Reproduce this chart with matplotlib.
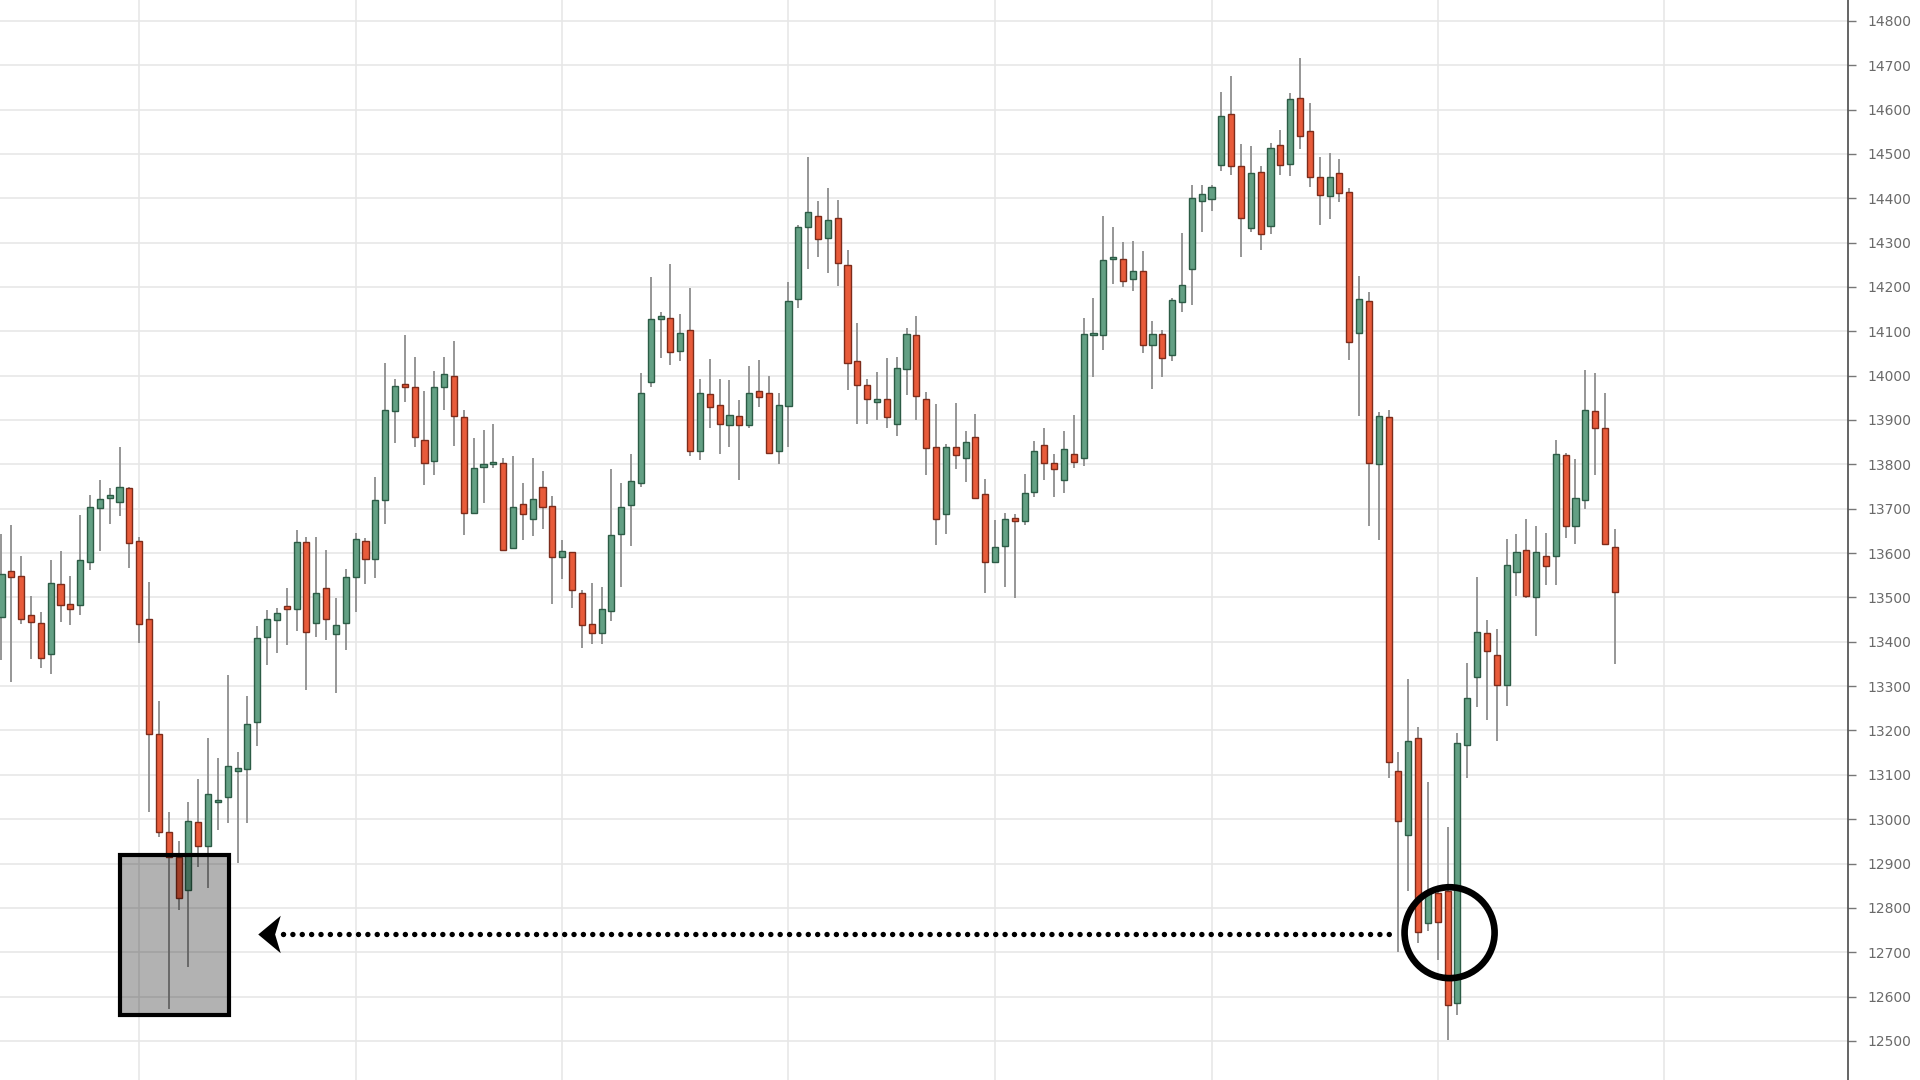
import numpy as np
import matplotlib
matplotlib.use('Agg')
import matplotlib.pyplot as plt
from matplotlib.patches import Rectangle, Ellipse
from matplotlib.path import Path

# OHLC, one bar per entry
opens = [13456, 13559, 13548, 13461, 13443, 13372, 13530, 13486, 13482, 13580,
         13702, 13724, 13715, 13747, 13628, 13452, 13193, 12971, 12915, 12841,
         12993, 12940, 13038, 13049, 13109, 13113, 13219, 13411, 13448, 13481,
         13474, 13626, 13443, 13522, 13417, 13442, 13547, 13628, 13587, 13719,
         13921, 13981, 13975, 13855, 13807, 13974, 13999, 13907, 13691, 13795,
         13801, 13802, 13612, 13710, 13677, 13750, 13707, 13590, 13602, 13511,
         13440, 13419, 13470, 13643, 13709, 13759, 13986, 14128, 14131, 14056,
         14103, 13829, 13959, 13933, 13889, 13908, 13889, 13965, 13962, 13829,
         13932, 14172, 14336, 14361, 14310, 14355, 14250, 14033, 13979, 13941,
         13947, 13892, 14016, 14092, 13948, 13838, 13689, 13838, 13815, 13862,
         13734, 13580, 13616, 13680, 13672, 13738, 13844, 13802, 13765, 13824,
         13815, 14092, 14092, 14262, 14262, 14217, 14237, 14068, 14095, 14046,
         14166, 14241, 14393, 14399, 14474, 14589, 14472, 14333, 14459, 14337,
         14520, 14478, 14626, 14551, 14448, 14406, 14457, 14414, 14097, 14168,
         13800, 13907, 13108, 12964, 13182, 12766, 12834, 12838, 12586, 13168,
         13320, 13420, 13371, 13303, 13557, 13608, 13501, 13593, 13593, 13820,
         13660, 13720, 13920, 13883, 13614]
highs = [13643, 13663, 13594, 13503, 13468, 13585, 13604, 13548, 13685, 13732,
         13764, 13746, 13839, 13750, 13637, 13534, 13267, 13016, 12950, 13038,
         13091, 13183, 13139, 13326, 13151, 13277, 13435, 13472, 13477, 13522,
         13652, 13636, 13636, 13607, 13499, 13564, 13646, 13633, 13771, 14028,
         13993, 14091, 14041, 13966, 14010, 14041, 14079, 13922, 13859, 13877,
         13892, 13814, 13818, 13757, 13814, 13785, 13729, 13629, 13602, 13517,
         13532, 13524, 13789, 13757, 13823, 14007, 14223, 14144, 14251, 14138,
         14198, 13993, 14038, 13993, 13990, 13945, 14022, 14035, 13999, 13962,
         14211, 14340, 14492, 14394, 14423, 14397, 14283, 14118, 13992, 14008,
         14039, 14042, 14108, 14134, 13964, 13935, 13847, 13939, 13876, 13914,
         13768, 13674, 13691, 13687, 13778, 13853, 13883, 13823, 13875, 13911,
         14131, 14174, 14360, 14335, 14301, 14303, 14282, 14123, 14102, 14175,
         14322, 14429, 14429, 14430, 14640, 14675, 14523, 14517, 14472, 14524,
         14553, 14638, 14716, 14615, 14492, 14502, 14489, 14423, 14224, 14189,
         13917, 13923, 13151, 13317, 13208, 13084, 12840, 12982, 13194, 13352,
         13547, 13448, 13428, 13631, 13643, 13677, 13660, 13645, 13855, 13826,
         13811, 14013, 14007, 13961, 13654]
lows = [13359, 13310, 13441, 13362, 13340, 13327, 13444, 13437, 13460, 13561,
        13604, 13665, 13684, 13567, 13398, 13017, 12960, 12571, 12795, 12667,
        12891, 12844, 12976, 12991, 12901, 12991, 13165, 13347, 13375, 13392,
        13425, 13291, 13410, 13404, 13285, 13382, 13467, 13531, 13543, 13666,
        13848, 13940, 13838, 13753, 13775, 13923, 13842, 13640, 13687, 13712,
        13791, 13608, 13612, 13629, 13638, 13654, 13485, 13541, 13475, 13387,
        13395, 13395, 13447, 13524, 13616, 13750, 13974, 14039, 14023, 14033,
        13819, 13810, 13881, 13823, 13838, 13765, 13883, 13930, 13825, 13801,
        13840, 14152, 14241, 14268, 14231, 14203, 13968, 13892, 13892, 13900,
        13881, 13865, 13956, 13899, 13776, 13618, 13644, 13789, 13760, 13723,
        13511, 13580, 13524, 13499, 13663, 13726, 13764, 13726, 13736, 13792,
        13796, 13997, 14057, 14207, 14200, 14190, 14051, 13970, 13996, 14034,
        14143, 14159, 14323, 14371, 14462, 14453, 14268, 14323, 14283, 14320,
        14453, 14450, 14512, 14425, 14339, 14354, 14392, 14036, 13909, 13662,
        13630, 13093, 12700, 12838, 12720, 12747, 12682, 12501, 12559, 13093,
        13252, 13223, 13176, 13256, 13503, 13498, 13413, 13528, 13528, 13633,
        13620, 13700, 13777, 13620, 13349]
closes = [13553, 13546, 13452, 13445, 13363, 13533, 13482, 13473, 13584, 13704,
          13722, 13731, 13750, 13623, 13441, 13193, 12971, 12915, 12823, 12996,
          12940, 13056, 13042, 13119, 13116, 13215, 13408, 13452, 13465, 13473,
          13626, 13421, 13510, 13452, 13437, 13547, 13632, 13587, 13720, 13922,
          13977, 13974, 13862, 13804, 13974, 14003, 13908, 13691, 13792, 13798,
          13803, 13608, 13704, 13689, 13722, 13703, 13590, 13605, 13517, 13438,
          13419, 13474, 13641, 13703, 13763, 13962, 14128, 14135, 14053, 14097,
          13831, 13962, 13929, 13891, 13911, 13889, 13962, 13951, 13826, 13933,
          14169, 14336, 14368, 14308, 14351, 14254, 14029, 13978, 13947, 13947,
          13906, 14017, 14093, 13953, 13837, 13676, 13838, 13820, 13850, 13723,
          13580, 13614, 13676, 13672, 13736, 13831, 13802, 13789, 13835, 13805,
          14095, 14094, 14260, 14268, 14214, 14237, 14068, 14095, 14040, 14170,
          14205, 14400, 14410, 14426, 14586, 14472, 14356, 14456, 14320, 14514,
          14474, 14624, 14541, 14447, 14408, 14448, 14412, 14075, 14173, 13803,
          13910, 13128, 12995, 13176, 12745, 12834, 12769, 12580, 13171, 13274,
          13423, 13379, 13303, 13574, 13602, 13503, 13602, 13570, 13823, 13662,
          13725, 13923, 13883, 13620, 13513]

price_ticks = list(range(12400, 14900, 100))
date_grid = [14, 36, 57, 80, 101, 123, 146, 169]   # bars where the vertical grid falls

# annotations: old low zone, retest level, bar of the retest
zone_bars = (12.05, 23.12)
zone_prices = (12559, 12920)
retest_price = 12740
arrow_bar = 27.0
circle_bar = 147.2
circle_price = 12744

o = np.array(opens, dtype=float)
h = np.array(highs, dtype=float)
l = np.array(lows, dtype=float)
c = np.array(closes, dtype=float)
idx = np.arange(len(o))
up = c >= o

green, green_edge = '#63a084', '#2c5c46'
red, red_edge = '#e85b3a', '#7d2c1b'

fig = plt.figure(figsize=(19.2, 10.8), dpi=100)
# axes run a little past the bottom edge so the 12400 label is cut like in the original
ax = fig.add_axes([0, -0.01, 1848 / 1920, 1.01])

# wicks
ax.vlines(idx, l, h, color='#8e8e8e', linewidth=1.3, zorder=2)

# bodies
bottom = np.minimum(o, c)
height = np.maximum(np.abs(c - o), 5)
ax.bar(idx[up], height[up], bottom=bottom[up], width=0.62,
       color=green, edgecolor=green_edge, linewidth=1.0, zorder=3)
ax.bar(idx[~up], height[~up], bottom=bottom[~up], width=0.62,
       color=red, edgecolor=red_edge, linewidth=1.0, zorder=3)

# grey zone around the old low
ax.add_patch(Rectangle((zone_bars[0], zone_prices[0]),
                       zone_bars[1] - zone_bars[0], zone_prices[1] - zone_prices[0],
                       facecolor=(0, 0, 0, 0.3), edgecolor='black', linewidth=3, zorder=5))

# dotted line back to the zone + arrow head
ax.plot([arrow_bar + 1.6, circle_bar - 5.55], [retest_price, retest_price],
        color='black', linewidth=3.9, linestyle=(0, (0.01, 1.72)),
        dash_capstyle='round', zorder=6)
head = Path([(-0.6, 0), (0.6, 1), (0.3, 0), (0.6, -1), (-0.6, 0)],
            [Path.MOVETO, Path.LINETO, Path.LINETO, Path.LINETO, Path.CLOSEPOLY])
ax.plot([arrow_bar + 0.15], [retest_price], marker=head, markersize=27,
        color='black', markeredgewidth=0, zorder=6)

# circle on the retest bars
ax.add_patch(Ellipse((circle_bar, circle_price), 9.15, 205, fill=False,
                     edgecolor='black', linewidth=4.8, zorder=6))

ax.set_xlim(-0.15, 187.7)
ax.set_ylim(12387.5, 14847)

ax.set_xticks(date_grid)
ax.set_yticks(price_ticks)
ax.grid(True, color='#e7e7e7', linewidth=1.2, zorder=0)
ax.set_axisbelow(True)

ax.yaxis.tick_right()
ax.tick_params(axis='x', length=0, labelbottom=False)
ax.tick_params(axis='y', direction='out', length=6, width=1, color='#777777',
               labelsize=10, labelcolor='#6a6a6a', pad=8)

for side in ['top', 'left', 'bottom']:
    ax.spines[side].set_visible(False)
ax.spines['right'].set_color('#4a4a4a')
ax.spines['right'].set_linewidth(1.2)

fig.savefig('out.png', dpi=100)
